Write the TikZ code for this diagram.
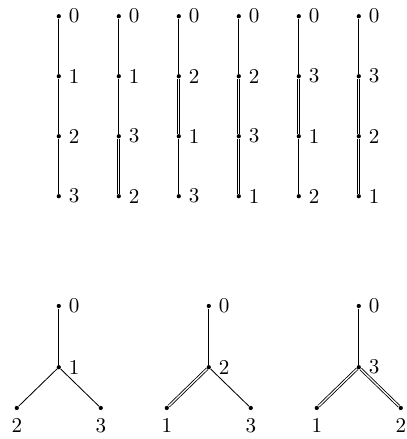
\documentclass[tikz,border=0pt]{standalone}
\usepackage{tikz}

\begin{document}
\begin{tikzpicture}[
  vertex/.style={
    circle, fill=black, inner sep=0pt, minimum size=2pt
  },
  plain/.style={line width=0.4pt},
  dbl/.style={double, double distance=0.6pt, line width=0.4pt},
]

\useasboundingbox (0,0) rectangle (6.767,-7.317);

% Chains
\foreach \i/\la/\lb/\lc/\ld in {1/0/1/2/3, 2/0/1/3/2, 3/0/2/1/3, 4/0/2/3/1, 5/0/3/1/2, 6/0/3/2/1} {
  \node[vertex, label=right:\la] (c\i a) at (\i-0.02,-0.27) {};
  \node[vertex, label=right:\lb] (c\i b) at (\i-0.02,-1.27) {};
  \node[vertex, label=right:\lc] (c\i c) at (\i-0.02,-2.27) {};
  \node[vertex, label=right:\ld] (c\i d) at (\i-0.02,-3.27) {};
}

% Chain edges
\foreach \i/\ea/\eb/\ec in {1/plain/plain/plain, 2/plain/plain/dbl, 3/plain/dbl/plain, 4/plain/dbl/dbl, 5/plain/dbl/plain, 6/plain/dbl/dbl} {
  \draw[\ea] (c\i a) -- (c\i b);
  \draw[\eb] (c\i b) -- (c\i c);
  \draw[\ec] (c\i c) -- (c\i d);
}

% Trees
\foreach \i/\x/\lm/\ll/\lr/\el/\er in {1/0.98/1/2/3/plain/plain, 2/3.48/2/1/3/dbl/plain, 3/5.98/3/1/2/dbl/dbl} {
  \node[vertex, label=right:0] (t\i top) at (\x,-5.1) {};
  \node[vertex, label=right:\lm] (t\i mid) at (\x,-6.12) {};
  \node[vertex, label=below:\ll] (t\i left) at (\x-0.7,-6.8) {};
  \node[vertex, label=below:\lr] (t\i right) at (\x+0.7,-6.8) {};
  \draw[plain] (t\i top) -- (t\i mid);
  \draw[\el] (t\i mid) -- (t\i left);
  \draw[\er] (t\i mid) -- (t\i right);
}

\end{tikzpicture}
\end{document}
